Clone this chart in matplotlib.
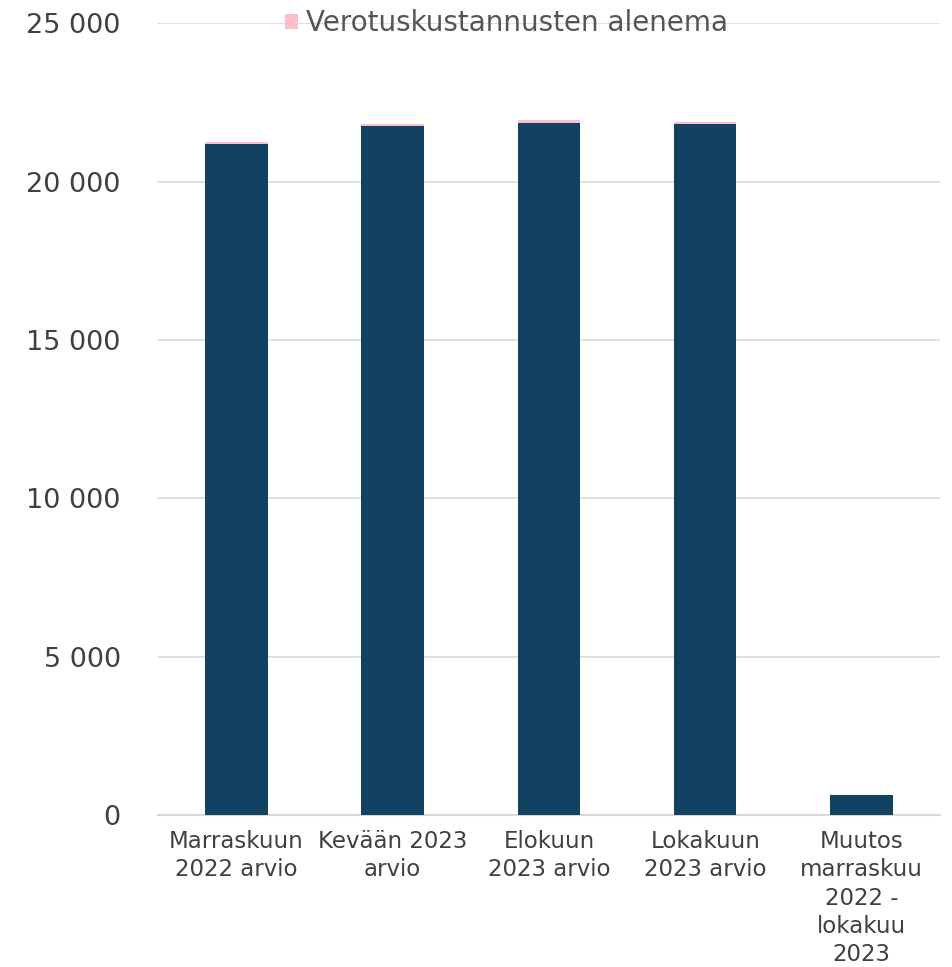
import matplotlib.pyplot as plt
import numpy as np

categories = ['Marraskuun\n2022 arvio', 'Kevään 2023\narvio', 'Elokuun\n2023 arvio',
              'Lokakuun\n2023 arvio', 'Muutos\nmarraskuu\n2022 -\nlokakuu\n2023']
base_values = [21180, 21760, 21850, 21830, 630]
tax_cost_drop = [60, 60, 80, 60, 0]

yticks = [0, 5000, 10000, 15000, 20000, 25000]
ytick_labels = ['0', '5 000', '10 000', '15 000', '20 000', '25 000']

plt.rcParams['font.family'] = ['DejaVu Sans']

fig = plt.figure(figsize=(9.53, 9.67), dpi=100)
ax = fig.add_axes([0.166, 0.157, 0.82, 0.819])

x = np.arange(len(categories))
ax.bar(x, base_values, width=0.4, color='#124262', zorder=3)
ax.bar(x, tax_cost_drop, width=0.4, bottom=base_values, color='#ffbccb',
       label='Verotuskustannusten alenema', zorder=3)

ax.set_ylim(0, 25000)
ax.set_xlim(-0.5, len(categories) - 0.5)
ax.set_yticks(yticks)
ax.set_yticklabels(ytick_labels, fontsize=19.5, color='#404040')
ax.set_xticks(x)
ax.set_xticklabels(categories, fontsize=16.5, color='#404040', linespacing=1.28)
ax.tick_params(axis='both', length=0)
ax.tick_params(axis='y', pad=27)
ax.tick_params(axis='x', pad=11)

ax.grid(axis='y', color='#d9d9d9', linewidth=1.2, zorder=0)
for side in ['top', 'right', 'left']:
    ax.spines[side].set_visible(False)
ax.spines['bottom'].set_color('#d9d9d9')
ax.spines['bottom'].set_linewidth(1.5)

leg = ax.legend(loc='center', bbox_to_anchor=(0.446, 1.0), frameon=False,
                fontsize=20, handlelength=0.45, handleheight=0.45, handletextpad=0.3,
                labelcolor='#555555')

fig.savefig('out.png', dpi=100)
